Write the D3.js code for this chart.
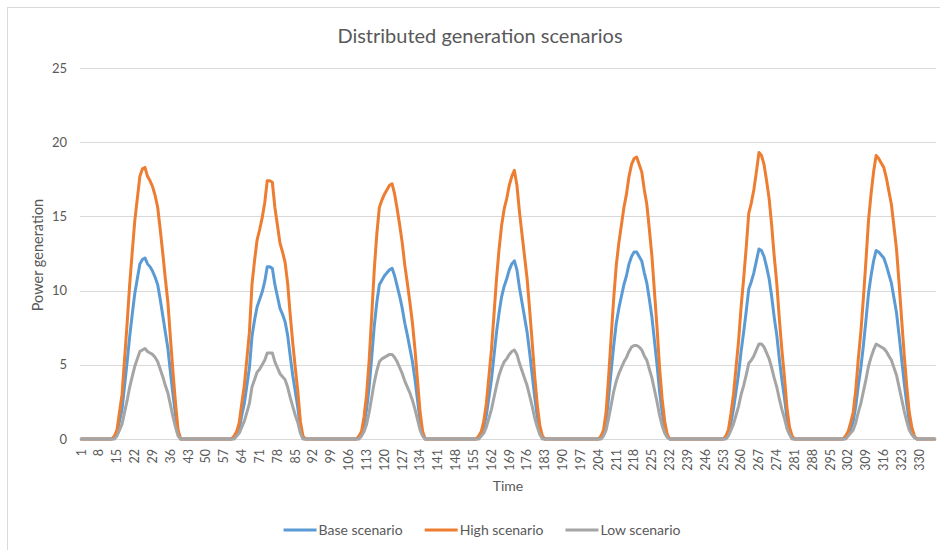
<!DOCTYPE html>
<html>
<head>
<meta charset="utf-8">
<script src="https://cdn.jsdelivr.net/npm/d3@7/dist/d3.min.js"></script>
<style>
  body { margin: 0; background: #fff; }
  text { font-family: Lato, "Open Sans", sans-serif; fill: #595959; }
</style>
</head>
<body>
<script>
// time steps 1..336 (7 days x 48 half hours)
var time = d3.range(1, 337);
var timeTicks = time.filter(function(d, i) { return i % 7 === 0; });
var yTicks = [0, 5, 10, 15, 20, 25];

var seriesNames = ["Base scenario", "High scenario", "Low scenario"];
var seriesColors = ["#5b9bd5", "#ed7d31", "#a5a5a5"];

var baseScenario = [
  0,0,0,0,0,0,0,0,0,0,0,0,0, 0.1,0.4,1.2,2.0,3.6,5.2,6.9,8.4,9.8,10.8,11.8,12.1,12.2,11.8,11.6,11.3,10.9,10.4,9.4,8.3,7.2,6.1,4.5,3.0,1.6,0.4, 0,0,0,0,0,0,0,0,0,
  0,0,0,0,0,0,0,0,0,0,0,0, 0.1,0.3,0.7,1.6,2.4,3.6,4.8,6.9,8.0,8.9,9.4,9.9,10.6,11.6,11.6,11.5,10.4,9.6,8.8,8.4,7.9,7.0,5.6,4.3,3.2,2.1,0.8,0.1, 0,0,0,0,0,0,0,0,
  0,0,0,0,0,0,0,0,0,0,0,0,0, 0.1,0.3,1.0,2.0,3.5,5.5,7.6,9.2,10.4,10.7,11.0,11.2,11.4,11.5,11.0,10.3,9.6,8.8,7.8,7.0,6.1,5.2,4.0,2.6,1.2,0.3, 0,0,0,0,0,0,0,0,0,
  0,0,0,0,0,0,0,0,0,0,0,0, 0.1,0.3,0.8,1.6,2.8,4.0,5.6,7.2,8.5,9.6,10.3,10.8,11.4,11.8,12.0,11.4,10.2,9.2,8.2,7.2,5.8,4.3,2.8,1.5,0.6,0.1, 0,0,0,0,0,0,0,0,0,0,
  0,0,0,0,0,0,0,0,0,0,0,0, 0.1,0.4,1.2,2.8,4.6,6.3,7.8,8.8,9.6,10.4,11.0,11.8,12.3,12.6,12.6,12.3,12.0,11.2,10.5,9.4,8.2,6.6,5.0,3.2,1.8,0.8,0.2, 0,0,0,0,0,0,0,0,0,
  0,0,0,0,0,0,0,0,0,0,0,0,0, 0.1,0.4,1.1,2.0,3.2,4.4,5.9,7.2,8.6,10.1,10.6,11.2,12.0,12.8,12.7,12.3,11.6,10.8,9.6,8.2,7.0,5.4,4.0,2.8,1.4,0.5,0.1, 0,0,0,0,0,0,0,0,
  0,0,0,0,0,0,0,0,0,0,0,0, 0.1,0.3,0.7,1.2,2.2,3.6,4.8,6.3,8.0,9.8,11.0,12.0,12.7,12.6,12.4,12.2,11.7,11.1,10.5,9.5,8.5,7.0,5.4,3.8,2.4,1.2,0.5,0.1, 0,0,0,0,0,0,0,0
];

var highScenario = [
  0,0,0,0,0,0,0,0,0,0,0,0,0, 0.2,0.6,1.8,3.0,5.4,7.8,10.4,12.6,14.7,16.2,17.7,18.2,18.3,17.7,17.4,17.0,16.4,15.6,14.1,12.5,10.8,9.2,6.8,4.5,2.4,0.6, 0,0,0,0,0,0,0,0,0,
  0,0,0,0,0,0,0,0,0,0,0,0, 0.2,0.5,1.1,2.4,3.6,5.4,7.2,10.4,12.0,13.4,14.1,14.9,15.9,17.4,17.4,17.3,15.6,14.4,13.2,12.6,11.9,10.5,8.4,6.5,4.8,3.2,1.2,0.2, 0,0,0,0,0,0,0,0,
  0,0,0,0,0,0,0,0,0,0,0,0,0, 0.2,0.5,1.5,3.0,5.3,8.3,11.4,13.8,15.6,16.1,16.5,16.8,17.1,17.2,16.5,15.5,14.4,13.2,11.7,10.5,9.2,7.8,6.0,3.9,1.8,0.5, 0,0,0,0,0,0,0,0,0,
  0,0,0,0,0,0,0,0,0,0,0,0, 0.2,0.5,1.2,2.4,4.2,6.0,8.4,10.8,12.8,14.4,15.5,16.2,17.1,17.7,18.1,17.1,15.3,13.8,12.3,10.8,8.7,6.5,4.2,2.3,0.9,0.2, 0,0,0,0,0,0,0,0,0,0,
  0,0,0,0,0,0,0,0,0,0,0,0, 0.2,0.6,1.8,4.2,6.9,9.5,11.7,13.2,14.4,15.6,16.5,17.7,18.5,18.9,19.0,18.5,18.0,16.8,15.8,14.1,12.3,9.9,7.5,4.8,2.7,1.2,0.3, 0,0,0,0,0,0,0,0,0,
  0,0,0,0,0,0,0,0,0,0,0,0,0, 0.2,0.6,1.7,3.0,4.8,6.6,8.9,10.8,12.9,15.2,15.9,16.8,18.0,19.3,19.1,18.5,17.4,16.2,14.4,12.3,10.5,8.1,6.0,4.2,2.1,0.8,0.2, 0,0,0,0,0,0,0,0,
  0,0,0,0,0,0,0,0,0,0,0,0, 0.2,0.5,1.1,1.8,3.3,5.4,7.2,9.5,12.0,14.7,16.5,18.0,19.1,18.9,18.6,18.3,17.6,16.7,15.8,14.3,12.8,10.5,8.1,5.7,3.6,1.8,0.8,0.2, 0,0,0,0,0,0,0,0
];

var lowScenario = [
  0,0,0,0,0,0,0,0,0,0,0,0,0, 0.0,0.2,0.6,1.0,1.8,2.6,3.5,4.2,4.9,5.4,5.9,6.0,6.1,5.9,5.8,5.7,5.5,5.2,4.7,4.2,3.6,3.1,2.3,1.5,0.8,0.2, 0,0,0,0,0,0,0,0,0,
  0,0,0,0,0,0,0,0,0,0,0,0, 0.0,0.2,0.4,0.8,1.2,1.8,2.4,3.5,4.0,4.5,4.7,5.0,5.3,5.8,5.8,5.8,5.2,4.8,4.4,4.2,4.0,3.5,2.8,2.2,1.6,1.1,0.4,0.0, 0,0,0,0,0,0,0,0,
  0,0,0,0,0,0,0,0,0,0,0,0,0, 0.0,0.2,0.5,1.0,1.8,2.8,3.8,4.6,5.2,5.4,5.5,5.6,5.7,5.7,5.5,5.2,4.8,4.4,3.9,3.5,3.1,2.6,2.0,1.3,0.6,0.2, 0,0,0,0,0,0,0,0,0,
  0,0,0,0,0,0,0,0,0,0,0,0, 0.0,0.2,0.4,0.8,1.4,2.0,2.8,3.6,4.3,4.8,5.2,5.4,5.7,5.9,6.0,5.7,5.1,4.6,4.1,3.6,2.9,2.2,1.4,0.8,0.3,0.0, 0,0,0,0,0,0,0,0,0,0,
  0,0,0,0,0,0,0,0,0,0,0,0, 0.0,0.2,0.6,1.4,2.3,3.2,3.9,4.4,4.8,5.2,5.5,5.9,6.2,6.3,6.3,6.2,6.0,5.6,5.3,4.7,4.1,3.3,2.5,1.6,0.9,0.4,0.1, 0,0,0,0,0,0,0,0,0,
  0,0,0,0,0,0,0,0,0,0,0,0,0, 0.0,0.2,0.6,1.0,1.6,2.2,3.0,3.6,4.3,5.1,5.3,5.6,6.0,6.4,6.4,6.2,5.8,5.4,4.8,4.1,3.5,2.7,2.0,1.4,0.7,0.3,0.0, 0,0,0,0,0,0,0,0,
  0,0,0,0,0,0,0,0,0,0,0,0, 0.0,0.2,0.4,0.6,1.1,1.8,2.4,3.2,4.0,4.9,5.5,6.0,6.4,6.3,6.2,6.1,5.9,5.6,5.3,4.8,4.3,3.5,2.7,1.9,1.2,0.6,0.3,0.1, 0,0,0,0,0,0,0,0
];

var seriesValues = [baseScenario, highScenario, lowScenario];
seriesValues.forEach(function(s, i) {
  if (s.length !== time.length) throw new Error(seriesNames[i] + " has " + s.length + " values");
});

var width = 940,
    height = 550;

var svg = d3.select("body").append("svg")
    .attr("width", width)
    .attr("height", height);

// chart frame (only top and left edges show in the source)
svg.append("line").attr("x1", 7).attr("x2", width).attr("y1", 7.5).attr("y2", 7.5)
    .attr("stroke", "#d9d9d9");
svg.append("line").attr("x1", 7.5).attr("x2", 7.5).attr("y1", 7).attr("y2", height)
    .attr("stroke", "#d9d9d9");

var x = d3.scaleBand()
    .domain(time)
    .range([80, 936]);

var y = d3.scaleLinear()
    .domain([0, 25])
    .range([439, 68]);

svg.append("text")
    .attr("x", 480)
    .attr("y", 43)
    .attr("text-anchor", "middle")
    .style("font-size", "20px")
    .text("Distributed generation scenarios");

// gridlines
svg.append("g")
    .attr("class", "grid")
  .selectAll("line")
  .data(yTicks)
  .enter().append("line")
    .attr("x1", 80)
    .attr("x2", 936)
    .attr("y1", function(d) { return Math.round(y(d)) + 0.5; })
    .attr("y2", function(d) { return Math.round(y(d)) + 0.5; })
    .attr("stroke", "#d9d9d9")
    .attr("stroke-width", 1);

// y axis labels
var yAxis = svg.append("g")
    .attr("transform", "translate(80,0)")
    .call(d3.axisLeft(y).tickValues(yTicks).tickSize(0).tickPadding(13));
yAxis.select(".domain").remove();
yAxis.selectAll("text")
    .style("font-size", "13px")
    .attr("fill", null);

// x axis labels, rotated
var xAxis = svg.append("g")
    .attr("transform", "translate(0,439)")
    .call(d3.axisBottom(x).tickValues(timeTicks).tickSize(0));
xAxis.select(".domain").remove();
xAxis.selectAll("text")
    .attr("fill", null)
    .style("font-size", "12.5px")
    .attr("transform", "rotate(-90)")
    .attr("x", -10)
    .attr("y", 0)
    .attr("dy", "0.35em")
    .style("text-anchor", "end");

svg.append("text")
    .attr("transform", "translate(38,255) rotate(-90)")
    .attr("text-anchor", "middle")
    .attr("dy", "0.35em")
    .style("font-size", "14.5px")
    .text("Power generation");

svg.append("text")
    .attr("x", 508)
    .attr("y", 491)
    .attr("text-anchor", "middle")
    .style("font-size", "14px")
    .text("Time");

// series lines
var line = d3.line()
    .x(function(d, i) { return x(time[i]) + x.bandwidth() / 2; })
    .y(function(d) { return y(d); });

svg.append("g")
    .attr("class", "series")
  .selectAll("path")
  .data(seriesValues)
  .enter().append("path")
    .attr("d", line)
    .attr("fill", "none")
    .attr("stroke", function(d, i) { return seriesColors[i]; })
    .attr("stroke-width", 3)
    .attr("stroke-linejoin", "round")
    .attr("stroke-linecap", "round");

// legend
var legend = svg.append("g").attr("class", "legend");
var item = legend.selectAll("g")
  .data(seriesNames)
  .enter().append("g");
item.append("line")
    .attr("x1", 0).attr("x2", 33)
    .attr("y1", 0).attr("y2", 0)
    .attr("stroke", function(d, i) { return seriesColors[i]; })
    .attr("stroke-width", 3);
item.append("text")
    .attr("x", 35)
    .attr("dy", "0.35em")
    .style("font-size", "14px")
    .text(function(d) { return d; });

var offsets = [], pos = 0;
item.each(function() {
  offsets.push(pos);
  pos += 35 + d3.select(this).select("text").node().getComputedTextLength() + 22;
});
var total = pos - 22;
var startX = 482 - total / 2;
item.attr("transform", function(d, i) { return "translate(" + (startX + offsets[i]) + ",530)"; });
</script>
</body>
</html>
